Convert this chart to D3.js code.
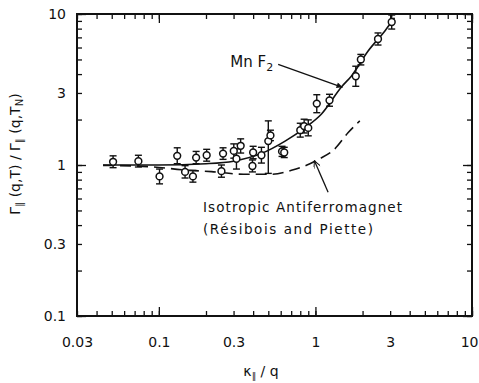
<!DOCTYPE html>
<html>
<head>
<meta charset="utf-8">
<script src="https://cdn.jsdelivr.net/npm/d3@7"></script>
<style>
  body { margin: 0; background: #fff; }
  text { font-family: "DejaVu Sans", sans-serif; fill: #111; }
</style>
</head>
<body>
<div id="chart"></div>
<script>
var svgWidth = 479;
var svgHeight = 383;

var margin = { top: 14, right: 7, bottom: 67, left: 77 };
var width = svgWidth - margin.left - margin.right;
var height = svgHeight - margin.top - margin.bottom;

// measured points: kappa/q and linewidth ratio with error limits
var kq    = [0.051, 0.074, 0.101, 0.131, 0.147, 0.165, 0.173, 0.202, 0.251, 0.257, 0.301, 0.313, 0.333, 0.40, 0.396, 0.452, 0.50, 0.516, 0.612, 0.632, 0.80, 0.847, 0.90, 1.02, 1.23, 1.81, 1.95, 2.51, 3.07];
var ratio = [1.05, 1.06, 0.84, 1.15, 0.90, 0.84, 1.12, 1.16, 0.91, 1.19, 1.24, 1.10, 1.34, 1.21, 0.985, 1.16, 1.44, 1.57, 1.23, 1.21, 1.70, 1.81, 1.76, 2.55, 2.68, 3.87, 5.0, 6.83, 8.85];
var errLo = [0.96, 0.97, 0.75, 1.02, 0.82, 0.77, 1.02, 1.06, 0.83, 1.09, 1.11, 0.94, 1.20, 1.10, 0.90, 1.03, 0.88, 1.45, 1.14, 1.12, 1.53, 1.63, 1.56, 2.22, 2.45, 3.32, 4.6, 6.23, 7.95];
var errHi = [1.15, 1.16, 0.94, 1.30, 0.99, 0.92, 1.23, 1.27, 1.00, 1.30, 1.38, 1.28, 1.49, 1.33, 1.08, 1.31, 1.96, 1.70, 1.33, 1.31, 1.89, 2.01, 1.99, 2.92, 2.94, 4.51, 5.4, 7.49, 9.85];

// MnF2 fit curve (solid)
var mnX = [0.044, 0.1, 0.2, 0.3, 0.45, 0.64, 0.86, 1.09, 1.47, 1.7, 2.17, 2.77, 3.2];
var mnY = [1.0, 1.0, 1.02, 1.06, 1.19, 1.44, 1.77, 2.17, 3.3, 3.89, 5.69, 7.7, 9.44];

// isotropic antiferromagnet theory (dashed)
var isoX = [0.044, 0.09, 0.146, 0.217, 0.347, 0.524, 0.703, 0.876, 1.045, 1.32, 1.62, 1.92];
var isoY = [0.995, 0.973, 0.927, 0.904, 0.868, 0.868, 0.922, 0.995, 1.09, 1.27, 1.64, 1.96];

// tick labels
var xLabels = [0.03, 0.1, 0.3, 1, 3, 10];
var yLabels = [0.1, 0.3, 1, 3, 10];
var decades = [0.1, 1, 10];

var svg = d3.select("#chart")
  .append("svg")
  .attr("width", svgWidth)
  .attr("height", svgHeight);

var defs = svg.append("defs");
defs.append("marker")
  .attr("id", "solidHead")
  .attr("viewBox", "0 0 10 10")
  .attr("refX", 10).attr("refY", 5)
  .attr("markerWidth", 10).attr("markerHeight", 6)
  .attr("markerUnits", "userSpaceOnUse")
  .attr("orient", "auto")
  .append("path")
  .attr("d", "M0,0 L10,5 L0,10 Z")
  .attr("fill", "#111");
defs.append("marker")
  .attr("id", "openHead")
  .attr("viewBox", "0 0 10 10")
  .attr("refX", 10).attr("refY", 5)
  .attr("markerWidth", 9).attr("markerHeight", 7)
  .attr("markerUnits", "userSpaceOnUse")
  .attr("orient", "auto")
  .append("path")
  .attr("d", "M0,0 L10,5 L0,10")
  .attr("fill", "none")
  .attr("stroke", "#111")
  .attr("stroke-width", 1.4);

var chartGroup = svg.append("g")
  .attr("transform", `translate(${margin.left}, ${margin.top})`);

var xScale = d3.scaleLog().domain([0.03, 10]).range([0, width]);
var yScale = d3.scaleLog().domain([0.1, 10]).range([height, 0]);

var xMinor = xScale.ticks();
var yMinor = yScale.ticks();
var fmt = d => String(d);

function cleanup(g) {
  g.select(".domain").remove();
  g.selectAll("line").attr("stroke", "#111").attr("stroke-width", 1.3);
}

// inward ticks on all four sides
chartGroup.append("g").attr("transform", `translate(0, ${height})`)
  .call(d3.axisBottom(xScale).tickValues(xMinor).tickSize(-5).tickFormat("")).call(cleanup);
chartGroup.append("g").attr("transform", `translate(0, ${height})`)
  .call(d3.axisBottom(xScale).tickValues(decades).tickSize(-9).tickFormat("")).call(cleanup);
chartGroup.append("g")
  .call(d3.axisTop(xScale).tickValues(xMinor).tickSize(-5).tickFormat("")).call(cleanup);
chartGroup.append("g")
  .call(d3.axisTop(xScale).tickValues(decades).tickSize(-9).tickFormat("")).call(cleanup);
chartGroup.append("g")
  .call(d3.axisLeft(yScale).tickValues(yMinor).tickSize(-5).tickFormat("")).call(cleanup);
chartGroup.append("g")
  .call(d3.axisLeft(yScale).tickValues(decades).tickSize(-9).tickFormat("")).call(cleanup);
chartGroup.append("g").attr("transform", `translate(${width}, 0)`)
  .call(d3.axisRight(yScale).tickValues(yMinor).tickSize(-5).tickFormat("")).call(cleanup);
chartGroup.append("g").attr("transform", `translate(${width}, 0)`)
  .call(d3.axisRight(yScale).tickValues(decades).tickSize(-9).tickFormat("")).call(cleanup);

// tick labels
var xl = chartGroup.append("g").attr("transform", `translate(0, ${height})`)
  .call(d3.axisBottom(xScale).tickValues(xLabels).tickSize(0).tickPadding(21).tickFormat(fmt));
xl.select(".domain").remove();
xl.selectAll("text").style("font-family", "DejaVu Sans").style("font-size", "14px").attr("fill", "#111");
// last label sits against the right edge of the page
xl.selectAll(".tick").filter(d => d === 10).select("text")
  .attr("text-anchor", "end").attr("x", 6);

var yl = chartGroup.append("g")
  .call(d3.axisLeft(yScale).tickValues(yLabels).tickSize(0).tickPadding(11).tickFormat(fmt));
yl.select(".domain").remove();
yl.selectAll("text").style("font-family", "DejaVu Sans").style("font-size", "14px").attr("fill", "#111");

// frame
chartGroup.append("rect")
  .attr("width", width).attr("height", height)
  .attr("fill", "none").attr("stroke", "#111").attr("stroke-width", 2);

// curves
var mnData = mnX.map((x, i) => ({ x: x, y: mnY[i] }));
var isoData = isoX.map((x, i) => ({ x: x, y: isoY[i] }));
var line = d3.line()
  .x(d => xScale(d.x))
  .y(d => yScale(d.y))
  .curve(d3.curveMonotoneX);

chartGroup.append("path")
  .attr("d", line(isoData))
  .attr("fill", "none").attr("stroke", "#111").attr("stroke-width", 1.6)
  .attr("stroke-dasharray", "11,6");

chartGroup.append("path")
  .attr("d", line(mnData))
  .attr("fill", "none").attr("stroke", "#111").attr("stroke-width", 1.6);

// error bars
var points = kq.map((x, i) => ({ x: x, y: ratio[i], lo: errLo[i], hi: errHi[i] }));
var bars = chartGroup.selectAll(".err")
  .data(points).enter().append("g").attr("class", "err")
  .attr("stroke", "#111").attr("stroke-width", 1.4);
bars.append("line")
  .attr("x1", d => xScale(d.x)).attr("x2", d => xScale(d.x))
  .attr("y1", d => yScale(d.lo)).attr("y2", d => yScale(d.hi));
bars.append("line")
  .attr("x1", d => xScale(d.x) - 3.5).attr("x2", d => xScale(d.x) + 3.5)
  .attr("y1", d => yScale(d.lo)).attr("y2", d => yScale(d.lo));
bars.append("line")
  .attr("x1", d => xScale(d.x) - 3.5).attr("x2", d => xScale(d.x) + 3.5)
  .attr("y1", d => yScale(d.hi)).attr("y2", d => yScale(d.hi));

// open circles
chartGroup.selectAll("circle")
  .data(points).enter().append("circle")
  .attr("cx", d => xScale(d.x))
  .attr("cy", d => yScale(d.y))
  .attr("r", 3.4)
  .attr("fill", "#fff")
  .attr("stroke", "#111")
  .attr("stroke-width", 1.5);

// annotations
chartGroup.append("line")
  .attr("x1", xScale(0.578)).attr("y1", yScale(4.64))
  .attr("x2", xScale(1.49)).attr("y2", yScale(3.27))
  .attr("stroke", "#111").attr("stroke-width", 1.3)
  .attr("marker-end", "url(#solidHead)");

var mnText = chartGroup.append("text")
  .attr("x", xScale(0.578) - 5).attr("y", yScale(4.64) + 3)
  .attr("text-anchor", "end")
  .style("font-size", "15px");
mnText.append("tspan").text("Mn F");
mnText.append("tspan").attr("dy", 4).style("font-size", "11px").text("2");

chartGroup.append("line")
  .attr("x1", xScale(1.205)).attr("y1", yScale(0.66))
  .attr("x2", xScale(0.985)).attr("y2", yScale(1.066))
  .attr("stroke", "#111").attr("stroke-width", 1.3)
  .attr("marker-end", "url(#openHead)");

svg.append("text")
  .attr("x", 203).attr("y", 212)
  .attr("textLength", 199).attr("lengthAdjust", "spacing")
  .style("font-size", "13.5px")
  .text("Isotropic Antiferromagnet");
svg.append("text")
  .attr("x", 203).attr("y", 234)
  .attr("textLength", 170).attr("lengthAdjust", "spacing")
  .style("font-size", "13.5px")
  .text("(Résibois and Piette)");

// axis titles
var xt = svg.append("text")
  .attr("x", 261).attr("y", 376)
  .attr("text-anchor", "middle")
  .style("font-size", "14px");
xt.append("tspan").text("κ");
xt.append("tspan").attr("dy", 3).style("font-size", "9px").text("∥");
xt.append("tspan").attr("dy", -3).text(" / q");

var yt = svg.append("text")
  .attr("transform", "translate(20, 154) rotate(-90)")
  .attr("text-anchor", "middle")
  .style("font-size", "14px");
yt.append("tspan").text("Γ");
yt.append("tspan").attr("dy", 3).style("font-size", "10px").text("∥");
yt.append("tspan").attr("dy", -3).text(" (q,T) / Γ");
yt.append("tspan").attr("dy", 3).style("font-size", "10px").text("∥");
yt.append("tspan").attr("dy", -3).text(" (q,T");
yt.append("tspan").attr("dy", 3).style("font-size", "10px").text("N");
yt.append("tspan").attr("dy", -3).text(")");
</script>
</body>
</html>
